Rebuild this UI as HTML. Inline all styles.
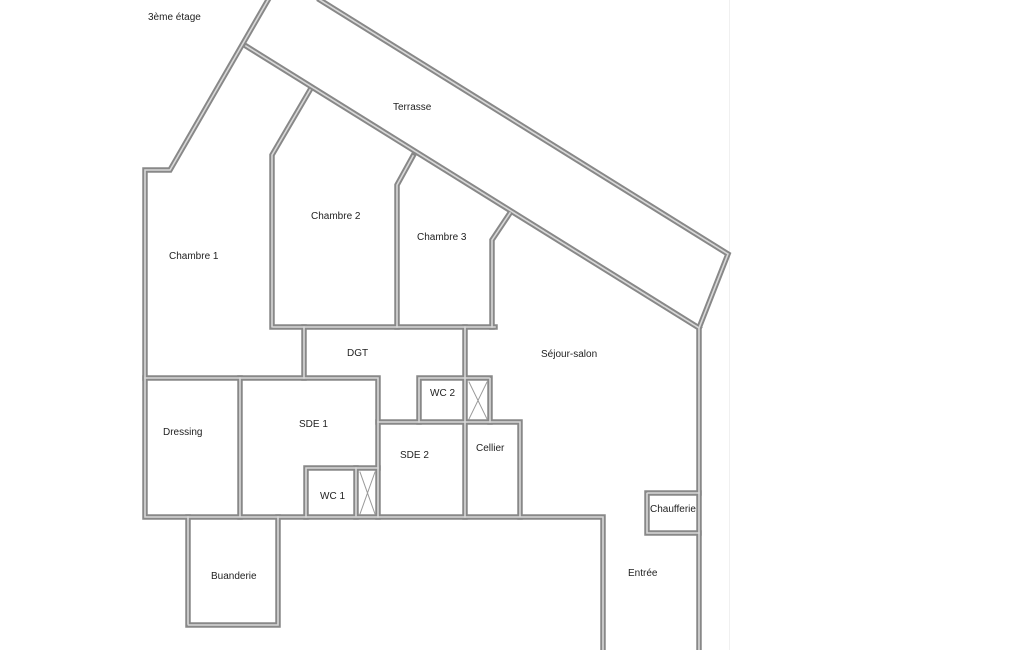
<!DOCTYPE html>
<html><head><meta charset="utf-8"><style>
html,body{margin:0;padding:0;background:#fff;}
svg{display:block;}
text{font-family:"Liberation Sans",sans-serif;font-size:10px;fill:#222;}
</style></head><body>
<svg width="1025" height="650" viewBox="0 0 1025 650" xmlns="http://www.w3.org/2000/svg">
<line x1="729.5" y1="0" x2="729.5" y2="650" stroke="#f0f0f0" stroke-width="1"/>
<g fill="none" stroke-linejoin="miter" stroke-linecap="square">
<g stroke="#888" stroke-width="5.5">
<polyline points="268,0 170,170 145,170 145,517 603,517 603,650"/>
<polyline points="320,0 728,254 699,328 699,650"/>
<line x1="246" y1="46" x2="699" y2="328"/>
<polyline points="310,90 272,155 272,327 495,327"/>
<polyline points="413,156 397,185 397,327"/>
<polyline points="510,213 492,240 492,327"/>
<line x1="304" y1="327" x2="304" y2="378"/>
<polyline points="145,378 378,378 378,517"/>
<line x1="465" y1="327" x2="465" y2="517"/>
<line x1="240" y1="378" x2="240" y2="517"/>
<polyline points="419,422 419,378 490,378 490,422"/>
<polyline points="378,422 520,422 520,517"/>
<polyline points="306,517 306,468 378,468"/>
<line x1="356" y1="468" x2="356" y2="517"/>
<polyline points="188,517 188,625 278,625 278,517"/>
<polyline points="699,493 647,493 647,533 699,533"/>
</g>
<g stroke="#d8d8d8" stroke-width="1.6" stroke-dasharray="2 1.5">
<polyline points="268,0 170,170 145,170 145,517 603,517 603,650"/>
<polyline points="320,0 728,254 699,328 699,650"/>
<line x1="246" y1="46" x2="699" y2="328"/>
<polyline points="310,90 272,155 272,327 495,327"/>
<polyline points="413,156 397,185 397,327"/>
<polyline points="510,213 492,240 492,327"/>
<line x1="304" y1="327" x2="304" y2="378"/>
<polyline points="145,378 378,378 378,517"/>
<line x1="465" y1="327" x2="465" y2="517"/>
<line x1="240" y1="378" x2="240" y2="517"/>
<polyline points="419,422 419,378 490,378 490,422"/>
<polyline points="378,422 520,422 520,517"/>
<polyline points="306,517 306,468 378,468"/>
<line x1="356" y1="468" x2="356" y2="517"/>
<polyline points="188,517 188,625 278,625 278,517"/>
<polyline points="699,493 647,493 647,533 699,533"/>
</g>
<g stroke="#999" stroke-width="1">
<line x1="469" y1="382" x2="487" y2="419"/><line x1="487" y1="382" x2="469" y2="419"/>
<line x1="360" y1="472" x2="375" y2="514"/><line x1="375" y1="472" x2="360" y2="514"/>
</g>
</g>
<text x="148" y="20">3ème étage</text>
<text x="393" y="110">Terrasse</text>
<text x="169" y="259">Chambre 1</text>
<text x="311" y="219">Chambre 2</text>
<text x="417" y="240">Chambre 3</text>
<text x="347" y="356">DGT</text>
<text x="541" y="357">Séjour-salon</text>
<text x="430" y="396">WC 2</text>
<text x="299" y="427">SDE 1</text>
<text x="163" y="435">Dressing</text>
<text x="400" y="458">SDE 2</text>
<text x="476" y="451">Cellier</text>
<text x="320" y="499">WC 1</text>
<text x="650" y="512">Chaufferie</text>
<text x="628" y="576">Entrée</text>
<text x="211" y="579">Buanderie</text>
</svg>
</body></html>
